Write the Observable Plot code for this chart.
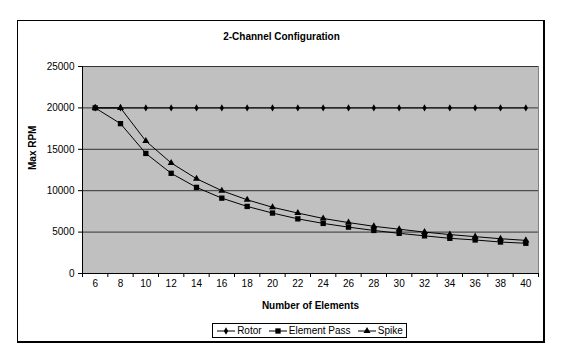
<!DOCTYPE html>
<html>
<head>
<meta charset="utf-8">
<script src="https://cdn.jsdelivr.net/npm/d3@7"></script>
<script src="https://cdn.jsdelivr.net/npm/@observablehq/plot@0.6"></script>
<style>
  body { margin: 0; background: #fff; font-family: "Liberation Sans", Arial, sans-serif; }
  #wrap { position: relative; width: 565px; height: 360px; }
  #outer { position: absolute; left: 17px; top: 20px; width: 525px; height: 320px; border: 1px solid #000; border-bottom-width: 2px; border-right-width: 2px; }
  #chart { position: absolute; left: 0; top: 0; }
  #legend { position: absolute; left: 212px; top: 323px; width: 193px; height: 13px; border: 1px solid #000; background: #fff;
            display: flex; align-items: center; justify-content: space-around; font-size: 10px; color: #000; }
  #legend span { display: inline-flex; align-items: center; }
  #legend svg { margin-right: 1px; }
</style>
</head>
<body>
<div id="wrap">
  <div id="outer"></div>
  <div id="chart"></div>
  <div id="legend"></div>
</div>
<script>
const elements = [6, 8, 10, 12, 14, 16, 18, 20, 22, 24, 26, 28, 30, 32, 34, 36, 38, 40];
const rotor = [20000, 20000, 20000, 20000, 20000, 20000, 20000, 20000, 20000, 20000, 20000, 20000, 20000, 20000, 20000, 20000, 20000, 20000];
const elementPass = [20000, 18100, 14500, 12100, 10400, 9100, 8100, 7300, 6600, 6050, 5600, 5200, 4850, 4550, 4250, 4050, 3800, 3650];
const spike = [20000, 20000, 16000, 13350, 11450, 10000, 8900, 8000, 7300, 6650, 6150, 5700, 5350, 5000, 4700, 4450, 4200, 4000];
const yTicks = [0, 5000, 10000, 15000, 20000, 25000];
const seriesNames = ["Rotor", "Element Pass", "Spike"];
const seriesSymbols = ["diamond", "square", "triangle"];
const seriesR = [2.2, 3, 2.6];
const title = "2-Channel Configuration";
const xTitle = "Number of Elements";
const yTitle = "Max RPM";

const seriesValues = [rotor, elementPass, spike];
const rows = seriesNames.flatMap((name, i) =>
  elements.map((n, j) => ({series: name, n, v: seriesValues[i][j]})));

const xMin = elements[0] - 1, xMax = elements[elements.length - 1] + 1;
const boundaries = d3.range(xMin, xMax + 1, 2);

const marks = [
  Plot.frame({fill: "#c0c0c0", stroke: "#808080"}),
  Plot.ruleY(yTicks.filter(t => t > 0), {stroke: "#333", strokeWidth: 1}),
  Plot.frame({anchor: "left", stroke: "#000"}),
  Plot.frame({anchor: "bottom", stroke: "#000"}),
  Plot.axisY({ticks: yTicks, tickSize: 4, tickPadding: 4, label: null, tickFormat: d => String(d)}),
  Plot.axisX({ticks: elements, tickSize: 0, tickPadding: 6, label: null, tickFormat: d => String(d)}),
  Plot.axisX({ticks: boundaries, tickSize: 4, label: null, tickFormat: () => ""}),
];
seriesNames.forEach((name, i) => {
  const data = rows.filter(d => d.series === name);
  marks.push(Plot.line(data, {x: "n", y: "v", stroke: "#000", strokeWidth: 1}));
  marks.push(Plot.dot(data, {x: "n", y: "v", symbol: seriesSymbols[i], r: seriesR[i], fill: "#000", stroke: "none"}));
});
marks.push(
  Plot.text([title], {frameAnchor: "top", lineAnchor: "middle", dy: -30, dx: -29, fontWeight: "bold", fontSize: 10}),
  Plot.text([xTitle], {frameAnchor: "bottom", lineAnchor: "middle", dy: 32, fontWeight: "bold", fontSize: 10}),
  Plot.text([yTitle], {frameAnchor: "left", dx: -50, rotate: -90, fontWeight: "bold", fontSize: 10})
);

const chart = Plot.plot({
  width: 565,
  height: 360,
  marginLeft: 82,
  marginRight: 27,
  marginTop: 66,
  marginBottom: 87,
  style: {fontFamily: "'Liberation Sans', Arial, sans-serif", fontSize: "10px", background: "transparent", color: "#000"},
  x: {type: "linear", domain: [xMin, xMax]},
  y: {domain: [0, 25000]},
  marks
});
document.getElementById("chart").appendChild(chart);

const legend = document.getElementById("legend");
seriesNames.forEach((name, i) => {
  const s = document.createElement("span");
  const sym = d3.symbol(
    seriesSymbols[i] === "diamond" ? d3.symbolDiamond : seriesSymbols[i] === "square" ? d3.symbolSquare : d3.symbolTriangle,
    Math.PI * seriesR[i] * seriesR[i])();
  s.innerHTML = `<svg width="20" height="10"><line x1="1" x2="19" y1="5" y2="5" stroke="#000"/><path d="${sym}" transform="translate(10,5)" fill="#000"/></svg>${name}`;
  legend.appendChild(s);
});
</script>
</body>
</html>
